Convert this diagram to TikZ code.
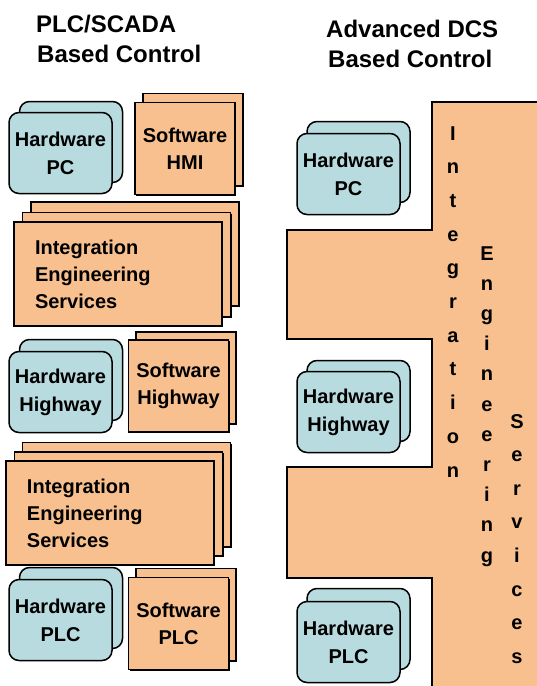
\documentclass[tikz,border=0pt]{standalone}
\usepackage{fontspec}
\setmainfont{Liberation Sans}
\usetikzlibrary{shadows}
\definecolor{hwblue}{RGB}{184,219,223}
\definecolor{swtan}{RGB}{247,192,142}
\tikzset{
	hwcard/.style={draw=black, line width=1.5pt, fill=hwblue, rounded corners=10pt, minimum width=103pt, minimum height=81pt, align=center, inner sep=0pt, font=\fontsize{20}{28}\selectfont\bfseries},
	swcard/.style={draw=black, line width=1.5pt, fill=swtan, minimum width=100pt, minimum height=92pt, align=center, inner sep=0pt, font=\fontsize{20}{27}\selectfont\bfseries, drop shadow={shadow xshift=1.2pt, shadow yshift=-1.2pt, opacity=1, fill=black}},
	iescard/.style={draw=black, line width=1.5pt, fill=swtan, minimum height=104pt, text width=166pt, inner xsep=21pt, inner ysep=0pt, align=left, font=\fontsize{20}{27}\selectfont\bfseries, drop shadow={shadow xshift=1.2pt, shadow yshift=-1.2pt, opacity=1, fill=black}},
	heading/.style={anchor=base west, inner sep=0pt, font=\fontsize{24}{30}\selectfont\bfseries},
	upletter/.style={anchor=base, inner sep=0pt, font=\fontsize{20}{24}\selectfont\bfseries}
}

\begin{document}
\begin{tikzpicture}[x=1pt, y=-1pt]
			%%%%% START %%%%%
			\useasboundingbox (0, 0) rectangle (536, 686);
			
			% headings
			\node[heading] (plc-t1) at (36, 32) {PLC/SCADA};
			\node[heading] (plc-t2) at (37, 62) {Based Control};
			\node[heading] (dcs-t1) at (326, 37) {Advanced DCS};
			\node[heading] (dcs-t2) at (328, 67) {Based Control};
			
			% left column
			\node[hwcard] (hwpc-b) at (71, 142) {};
			\node[hwcard] (hwpc) at (60.5, 153) {Hardware\\PC};
			
			\node[swcard] (swhmi-b) at (193, 139.5) {};
			\node[swcard] (swhmi) at (185, 148.5) {Software\\HMI};
			
			\node[iescard] (ies1-c) at (135, 254) {};
			\node[iescard] (ies1-b) at (126.5, 264.5) {};
			\node[iescard] (ies1) at (118, 274) {Integration\\Engineering\\Services};
			
			\node[hwcard] (hwhwy-b) at (71, 380) {};
			\node[hwcard] (hwhwy) at (60.5, 392) {Hardware\\Highway};
			
			\node[swcard] (swhwy-b) at (186, 378) {};
			\node[swcard] (swhwy) at (178.5, 386) {Software\\Highway};
			
			\node[iescard] (ies2-c) at (126.5, 494.5) {};
			\node[iescard] (ies2-b) at (118.5, 504) {};
			\node[iescard] (ies2) at (110, 513) {Integration\\Engineering\\Services};
			
			\node[hwcard] (hwplc-b) at (71, 608) {};
			\node[hwcard] (hwplc) at (60.5, 620) {Hardware\\PLC};
			
			\node[swcard] (swplc-b) at (186, 614.5) {};
			\node[swcard] (swplc) at (178.5, 623.5) {Software\\PLC};
			
			% right column
			\draw[line width=1.5pt, fill=swtan] (432, 102) -- (545, 102) -- (545, 695) -- (432, 695) -- (432, 578) -- (287, 578) -- (287, 467) -- (432, 467) -- (432, 339) -- (287, 339) -- (287, 230) -- (432, 230) -- cycle;
			
			\node[hwcard] (dpc-b) at (358.5, 162) {};
			\node[hwcard] (dpc) at (348.5, 174) {Hardware\\PC};
			
			\node[hwcard] (dhwy-b) at (358.5, 401) {};
			\node[hwcard] (dhwy) at (348.5, 412) {Hardware\\Highway};
			
			\node[hwcard] (dplc-b) at (358.5, 629) {};
			\node[hwcard] (dplc) at (348.5, 642) {Hardware\\PLC};
			
			% upright words
			\foreach \ch [count=\i from 0] in {I,n,t,e,g,r,a,t,i,o,n}
				\node[upletter] (int-\i) at (453, 140+33.7*\i) {\ch};
			\foreach \ch [count=\i from 0] in {E,n,g,i,n,e,e,r,i,n,g}
				\node[upletter] (eng-\i) at (487, 260+30.2*\i) {\ch};
			\foreach \ch [count=\i from 0] in {S,e,r,v,i,c,e,s}
				\node[upletter] (ser-\i) at (517, 428+33.6*\i) {\ch};
			
			%%%%% END %%%%%
\end{tikzpicture}
\end{document}
